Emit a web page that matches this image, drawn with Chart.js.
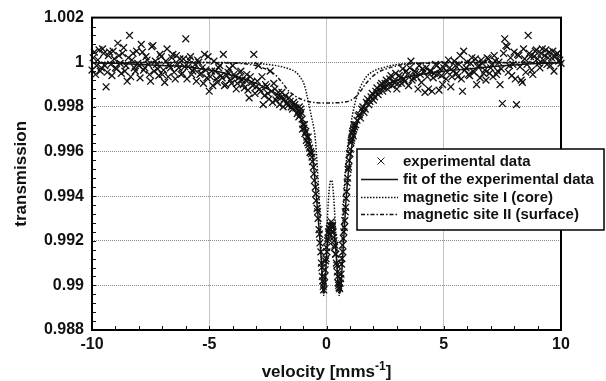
<!DOCTYPE html>
<html>
<head>
<meta charset="utf-8">
<script src="https://cdn.jsdelivr.net/npm/chart.js@4.4.1/dist/chart.umd.min.js"></script>
<style>
  body { margin: 0; background: #fff; }
  canvas { display: block; }
</style>
</head>
<body>
<canvas id="spectrum" width="606" height="381"></canvas>
<script>
// measured spectrum (velocity in mm/s, relative transmission), first pass
const velocity = [
  -10.0, -9.9, -9.8, -9.7, -9.6, -9.5, -9.4, -9.3, -9.2, -9.1,
  -9.0, -8.9, -8.8, -8.7, -8.6, -8.5, -8.4, -8.3, -8.2, -8.1,
  -8.0, -7.9, -7.8, -7.7, -7.6, -7.5, -7.4, -7.3, -7.2, -7.1,
  -7.0, -6.9, -6.8, -6.7, -6.6, -6.5, -6.4, -6.3, -6.2, -6.1,
  -6.0, -5.9, -5.8, -5.7, -5.6, -5.5, -5.4, -5.3, -5.2, -5.1,
  -5.0, -4.9, -4.8, -4.7, -4.6, -4.5, -4.4, -4.3, -4.2, -4.1,
  -4.0, -3.9, -3.8, -3.7, -3.6, -3.5, -3.4, -3.3, -3.2, -3.1,
  -3.0, -2.9, -2.8, -2.7, -2.6, -2.5, -2.4, -2.3, -2.2, -2.1,
  -2.0, -1.9, -1.8, -1.7, -1.6, -1.5, -1.4, -1.3,
  -1.20, -1.16, -1.12, -1.08, -1.04, -1.00, -0.96, -0.92, -0.88, -0.84,
  -0.80, -0.76, -0.72, -0.68, -0.64, -0.60, -0.56, -0.52, -0.48, -0.44,
  -0.40, -0.36, -0.32, -0.28, -0.24, -0.20, -0.16, -0.12, -0.08, -0.04,
  0.00, 0.04, 0.08, 0.12, 0.16, 0.20, 0.24, 0.28, 0.32, 0.36,
  0.40, 0.44, 0.48, 0.52, 0.56, 0.60, 0.64, 0.68, 0.72, 0.76,
  0.80, 0.84, 0.88, 0.92, 0.96, 1.00, 1.04, 1.08, 1.12, 1.16, 1.20,
  1.3, 1.4, 1.5, 1.6, 1.7, 1.8, 1.9, 2.0, 2.1, 2.2,
  2.3, 2.4, 2.5, 2.6, 2.7, 2.8, 2.9, 3.0, 3.1, 3.2,
  3.3, 3.4, 3.5, 3.6, 3.7, 3.8, 3.9, 4.0, 4.1, 4.2,
  4.3, 4.4, 4.5, 4.6, 4.7, 4.8, 4.9, 5.0, 5.1, 5.2,
  5.3, 5.4, 5.5, 5.6, 5.7, 5.8, 5.9, 6.0, 6.1, 6.2,
  6.3, 6.4, 6.5, 6.6, 6.7, 6.8, 6.9, 7.0, 7.1, 7.2,
  7.3, 7.4, 7.5, 7.6, 7.7, 7.8, 7.9, 8.0, 8.1, 8.2,
  8.3, 8.4, 8.5, 8.6, 8.7, 8.8, 8.9, 9.0, 9.1, 9.2,
  9.3, 9.4, 9.5, 9.6, 9.7, 9.8, 9.9, 10.0
];
const transmission = [
  0.99965, 1.00045, 0.99985, 1.00055, 0.99975, 1.00040, 0.99890, 1.00030, 0.99990, 1.00050,
  0.99975, 1.00085, 0.99995, 1.00040, 0.99960, 0.99915, 1.00120, 1.00010, 0.99975, 1.00050,
  0.99985, 1.00080, 0.99965, 1.00025, 0.99990, 0.99915, 1.00075, 1.00005, 0.99970, 1.00035,
  0.99945, 0.99910, 1.00060, 0.99985, 1.00020, 0.99955, 1.00030, 0.99975, 0.99945, 1.00015,
  1.00105, 0.99980, 1.00025, 0.99960, 0.99990, 1.00010, 0.99945, 0.99975, 1.00035, 0.99930,
  0.99870, 0.99960, 1.00005, 0.99925, 0.99975, 0.99940, 1.00035, 0.99900, 0.99955, 0.99920,
  0.99985, 0.99935, 0.99905, 0.99955, 0.99920, 0.99885, 0.99945, 0.99840, 0.99910, 1.00035,
  0.99890, 0.99985, 0.99870, 0.99810, 0.99900, 0.99860, 0.99960, 0.99820, 0.99880, 0.99845,
  0.99810, 0.99865, 0.99835, 0.99815, 0.99840, 0.99800, 0.99820, 0.99795,
  0.99780, 0.99800, 0.99765, 0.99775, 0.99745, 0.99720, 0.99705, 0.99680, 0.99690, 0.99665,
  0.99640, 0.99630, 0.99615, 0.99600, 0.99590, 0.99555, 0.99530, 0.99470, 0.99440, 0.99380,
  0.99345, 0.99300, 0.99250, 0.99190, 0.99150, 0.99080, 0.99020, 0.98980, 0.99040, 0.99110,
  0.99170, 0.99200, 0.99240, 0.99255, 0.99270, 0.99285, 0.99260, 0.99240, 0.99200, 0.99180,
  0.99140, 0.99090, 0.99040, 0.99000, 0.98985, 0.99030, 0.99095, 0.99180, 0.99210, 0.99260,
  0.99330, 0.99390, 0.99460, 0.99520, 0.99560, 0.99590, 0.99640, 0.99660, 0.99690, 0.99700, 0.99710,
  0.99740, 0.99765, 0.99790, 0.99775, 0.99820, 0.99810, 0.99845, 0.99830, 0.99870, 0.99855,
  0.99895, 0.99870, 0.99905, 0.99880, 0.99925, 0.99895, 0.99910, 0.99880, 0.99940, 0.99905,
  0.99925, 0.99960, 0.99895, 1.00005, 0.99930, 0.99955, 0.99880, 0.99945, 0.99970, 0.99865,
  0.99935, 0.99960, 0.99870, 0.99950, 0.99985, 0.99875, 0.99940, 0.99975, 0.99925, 1.00010,
  0.99890, 0.99960, 0.99985, 0.99935, 1.00030, 0.99870, 0.99965, 1.00000, 0.99940, 1.00020,
  0.99955, 0.99900, 0.99985, 1.00010, 0.99950, 0.99920, 1.00015, 0.99975, 0.99935, 1.00005,
  0.99960, 0.99900, 0.99815, 1.00105, 1.00070, 0.99985, 0.99940, 1.00045, 0.99810, 1.00030,
  0.99920, 1.00060, 0.99955, 1.00120, 1.00025, 0.99945, 1.00050, 1.00015, 0.99975, 1.00060,
  1.00030, 0.99990, 1.00045, 1.00020, 0.99960, 1.00035, 1.00005, 0.99995
];

// second pass of the measurement (channels in between)
const velocity2 = [
  -9.95, -9.85, -9.75, -9.65, -9.55, -9.45, -9.35, -9.25, -9.15, -9.05,
  -8.95, -8.85, -8.75, -8.65, -8.55, -8.45, -8.35, -8.25, -8.15, -8.05,
  -7.95, -7.85, -7.75, -7.65, -7.55, -7.45, -7.35, -7.25, -7.15, -7.05,
  -6.95, -6.85, -6.75, -6.65, -6.55, -6.45, -6.35, -6.25, -6.15, -6.05,
  -5.95, -5.85, -5.75, -5.65, -5.55, -5.45, -5.35, -5.25, -5.15, -5.05,
  -4.95, -4.85, -4.75, -4.65, -4.55, -4.45, -4.35, -4.25, -4.15, -4.05,
  -3.95, -3.85, -3.75, -3.65, -3.55, -3.45, -3.35, -3.25, -3.15, -3.05,
  -2.95, -2.85, -2.75, -2.65, -2.55, -2.45, -2.35, -2.25, -2.15, -2.05,
  -1.95, -1.85, -1.75, -1.65, -1.55, -1.45, -1.35, -1.25,
  -1.18, -1.10, -1.02, -0.94, -0.86, -0.78, -0.70, -0.62, -0.54, -0.46,
  -0.38, -0.30, -0.22, -0.18, -0.14, -0.10, -0.06, -0.02,
  0.02, 0.06, 0.10, 0.14, 0.18, 0.22, 0.26, 0.30, 0.34, 0.38,
  0.42, 0.46, 0.50, 0.54, 0.58, 0.62, 0.66, 0.70, 0.74, 0.78,
  0.82, 0.86, 0.90, 0.94, 0.98, 1.02, 1.06, 1.10, 1.14, 1.18,
  1.25, 1.35, 1.45, 1.55, 1.65, 1.75, 1.85, 1.95, 2.05, 2.15,
  2.25, 2.35, 2.45, 2.55, 2.65, 2.75, 2.85, 2.95, 3.05, 3.15,
  3.25, 3.35, 3.45, 3.55, 3.65, 3.75, 3.85, 3.95, 4.05, 4.15,
  4.25, 4.35, 4.45, 4.55, 4.65, 4.75, 4.85, 4.95, 5.05, 5.15,
  5.25, 5.35, 5.45, 5.55, 5.65, 5.75, 5.85, 5.95, 6.05, 6.15,
  6.25, 6.35, 6.45, 6.55, 6.65, 6.75, 6.85, 6.95, 7.05, 7.15,
  7.25, 7.35, 7.45, 7.55, 7.65, 7.75, 7.85, 7.95, 8.05, 8.15,
  8.25, 8.35, 8.45, 8.55, 8.65, 8.75, 8.85, 8.95, 9.05, 9.15,
  9.25, 9.35, 9.45, 9.55, 9.65, 9.75, 9.85, 9.95
];
const transmission2 = [
  1.00020, 0.99945, 1.00010, 0.99960, 1.00060, 0.99985, 0.99955, 1.00045, 0.99940, 1.00015,
  0.99970, 1.00030, 0.99950, 1.00065, 0.99985, 1.00020, 0.99935, 1.00040, 0.99960, 0.99995,
  0.99930, 1.00045, 0.99975, 1.00010, 0.99945, 1.00070, 0.99960, 0.99990, 0.99940, 1.00025,
  0.99965, 1.00005, 0.99935, 0.99975, 1.00035, 0.99925, 0.99990, 1.00015, 0.99950, 0.99980,
  0.99925, 1.00010, 0.99945, 0.99970, 0.99915, 1.00000, 0.99950, 0.99905, 0.99965, 1.00025,
  0.99935, 0.99895, 0.99960, 0.99910, 0.99985, 0.99930, 0.99895, 0.99940, 0.99970, 0.99905,
  0.99945, 0.99880, 0.99930, 0.99960, 0.99900, 0.99920, 0.99875, 0.99935, 0.99895, 0.99860,
  0.99915, 0.99880, 0.99935, 0.99850, 0.99890, 0.99835, 0.99870, 0.99905, 0.99830, 0.99865,
  0.99840, 0.99800, 0.99850, 0.99805, 0.99825, 0.99790, 0.99810, 0.99770,
  0.99755, 0.99790, 0.99700, 0.99720, 0.99650, 0.99665, 0.99595, 0.99575, 0.99500, 0.99410,
  0.99330, 0.99230, 0.99100, 0.99040, 0.98995, 0.99010, 0.99070, 0.99120,
  0.99150, 0.99210, 0.99230, 0.99250, 0.99265, 0.99240, 0.99270, 0.99215, 0.99170, 0.99140,
  0.99100, 0.99060, 0.99010, 0.98990, 0.99010, 0.99050, 0.99120, 0.99150, 0.99240, 0.99290,
  0.99350, 0.99420, 0.99480, 0.99530, 0.99590, 0.99610, 0.99650, 0.99680, 0.99670, 0.99720,
  0.99720, 0.99760, 0.99750, 0.99800, 0.99790, 0.99835, 0.99825, 0.99860, 0.99845, 0.99885,
  0.99870, 0.99905, 0.99885, 0.99920, 0.99900, 0.99940, 0.99915, 0.99950, 0.99905, 0.99930,
  0.99970, 0.99915, 0.99945, 0.99975, 0.99920, 0.99960, 0.99935, 0.99985, 0.99910, 0.99955,
  0.99975, 0.99880, 0.99960, 0.99930, 0.99990, 0.99945, 0.99970, 0.99900, 0.99990, 0.99955,
  0.99975, 0.99935, 1.00005, 0.99950, 0.99990, 0.99925, 1.00050, 0.99975, 0.99945, 0.99995,
  0.99960, 1.00015, 0.99980, 0.99930, 0.99995, 0.99965, 1.00020, 0.99950, 0.99990, 1.00030,
  0.99945, 1.00000, 0.99970, 1.00040, 1.00075, 0.99955, 1.00020, 0.99990, 0.99925, 1.00035,
  0.99980, 0.99910, 1.00015, 0.99990, 1.00040, 0.99965, 1.00025, 1.00055, 0.99995, 1.00040,
  1.00010, 1.00055, 1.00020, 0.99985, 1.00050, 1.00025, 1.00040, 1.00010
];

// least-squares fit of the whole spectrum
const fitVelocity = [
  -10, -9, -8, -7, -6, -5, -4.5, -4, -3.5, -3, -2.5, -2, -1.7, -1.4, -1.2, -1.0,
  -0.85, -0.7, -0.6, -0.5, -0.4, -0.3, -0.22, -0.16, -0.12, -0.08, -0.03, 0.03,
  0.1, 0.17, 0.24, 0.31, 0.38, 0.45, 0.51, 0.56, 0.61, 0.67, 0.74, 0.82, 0.9,
  1.0, 1.1, 1.25, 1.45, 1.7, 2.0, 2.4, 2.8, 3.3, 4, 5, 6, 7, 8, 9, 10
];
const fitTransmission = [
  0.99998, 0.99995, 0.9999, 0.99985, 0.9998, 0.99965, 0.99955, 0.9994, 0.99925, 0.99905, 0.9988, 0.9985, 0.9982, 0.9979, 0.99765, 0.9973,
  0.9969, 0.9963, 0.9958, 0.9948, 0.9936, 0.9923, 0.9911, 0.9900, 0.98965, 0.9899, 0.9907, 0.9917,
  0.9924, 0.99275, 0.9928, 0.9925, 0.9918, 0.9908, 0.9899, 0.98965, 0.9899, 0.9909, 0.9922, 0.9936, 0.9947,
  0.9957, 0.9964, 0.9971, 0.99765, 0.9982, 0.99855, 0.9989, 0.9991, 0.9993, 0.99945, 0.9996, 0.9997, 0.9998, 0.99988, 0.99994, 0.99997
];

// subspectrum: magnetic site I (core)
const coreVelocity = [
  -10, -6, -4, -3, -2.5, -2, -1.6, -1.3, -1.1, -0.95, -0.85, -0.75, -0.65, -0.55,
  -0.48, -0.41, -0.34, -0.27, -0.21, -0.16, -0.12, -0.08, -0.03, 0.03, 0.1, 0.16,
  0.22, 0.28, 0.34, 0.4, 0.45, 0.5, 0.54, 0.58, 0.63, 0.69, 0.75, 0.82, 0.9, 1.0,
  1.1, 1.25, 1.45, 1.7, 2.0, 2.5, 3, 4, 6, 10
];
const coreTransmission = [
  1.0, 1.0, 0.99998, 0.99995, 0.9999, 0.99982, 0.9997, 0.99955, 0.9993, 0.9990, 0.9986, 0.9981, 0.9976, 0.9971,
  0.9966, 0.9956, 0.9944, 0.9929, 0.9912, 0.9899, 0.98955, 0.9899, 0.9911, 0.9928, 0.9941, 0.99465,
  0.9947, 0.9943, 0.9934, 0.9921, 0.9909, 0.9899, 0.98955, 0.9899, 0.9911, 0.9926, 0.9940, 0.9952, 0.9961, 0.9969,
  0.9976, 0.9983, 0.9989, 0.99935, 0.9996, 0.99978, 0.9999, 0.99997, 1.0, 1.0
];

// subspectrum: magnetic site II (surface)
const surfaceVelocity = [
  -10, -5, -4, -3.5, -3, -2.6, -2.2, -1.9, -1.6, -1.35, -1.1, -0.8, -0.4, 0,
  0.4, 0.8, 1.05, 1.25, 1.45, 1.65, 1.9, 2.2, 2.6, 3.0, 3.5, 4.5, 6, 10
];
const surfaceTransmission = [
  0.99998, 0.99998, 0.99996, 0.99993, 0.99985, 0.9997, 0.99945, 0.9991, 0.9987, 0.9985, 0.99835, 0.99825, 0.99818, 0.99817,
  0.99818, 0.99822, 0.9983, 0.99845, 0.9987, 0.9990, 0.9993, 0.99955, 0.99972, 0.99984, 0.99992, 0.99996, 0.99998, 0.99998
];

const legendLabels = [
  "experimental data",
  "fit of the experimental data",
  "magnetic site I (core)",
  "magnetic site II (surface)"
];

const FONT = "'Liberation Sans', Arial, Helvetica, sans-serif";
const toPoints = (xs, ys) => xs.map((x, i) => ({ x: x, y: ys[i] }));

// frame, inner minor ticks, legend box and x title
const decorations = {
  id: "decorations",
  afterDraw(chart) {
    const { ctx, chartArea: a, scales } = chart;
    ctx.save();

    // minor ticks on left and bottom axes
    ctx.strokeStyle = "#111";
    ctx.lineWidth = 1;
    ctx.beginPath();
    for (let k = -9; k <= 9; k++) {
      const px = Math.round(scales.x.getPixelForValue(k)) + 0.5;
      ctx.moveTo(px, a.bottom);
      ctx.lineTo(px, a.bottom - 4);
    }
    for (let k = 1; k < 35; k++) {
      const py = Math.round(scales.y.getPixelForValue(0.988 + k * 0.0004)) + 0.5;
      ctx.moveTo(a.left, py);
      ctx.lineTo(a.left + 4, py);
    }
    ctx.stroke();

    // plot frame
    ctx.lineWidth = 2;
    ctx.strokeStyle = "#000";
    ctx.strokeRect(a.left, a.top, a.right - a.left, a.bottom - a.top);

    // legend
    const bx = 357, by = 149, bw = 247, bh = 81;
    ctx.fillStyle = "#fff";
    ctx.fillRect(bx, by, bw, bh);
    ctx.lineWidth = 1.5;
    ctx.strokeRect(bx, by, bw, bh);

    const rows = [161, 179, 197, 214];
    const sets = chart.data.datasets;
    // marker sample
    ctx.lineWidth = 1;
    ctx.strokeStyle = "#222";
    ctx.beginPath();
    ctx.moveTo(377.5, rows[0] - 3.5); ctx.lineTo(384.5, rows[0] + 3.5);
    ctx.moveTo(384.5, rows[0] - 3.5); ctx.lineTo(377.5, rows[0] + 3.5);
    ctx.stroke();
    // line samples
    for (let i = 1; i < 4; i++) {
      ctx.strokeStyle = sets[i].borderColor;
      ctx.lineWidth = sets[i].borderWidth;
      ctx.setLineDash(sets[i].borderDash || []);
      ctx.beginPath();
      ctx.moveTo(361, rows[i] + 0.5);
      ctx.lineTo(398, rows[i] + 0.5);
      ctx.stroke();
    }
    ctx.setLineDash([]);

    ctx.fillStyle = "#111";
    ctx.font = "bold 15px " + FONT;
    ctx.textBaseline = "middle";
    ctx.textAlign = "left";
    legendLabels.forEach((t, i) => ctx.fillText(t, 403, rows[i] + 1));

    // x axis title with superscript
    const main = "velocity [mms";
    const sup = "-1";
    ctx.font = "bold 17px " + FONT;
    const w1 = ctx.measureText(main).width;
    const w3 = ctx.measureText("]").width;
    ctx.font = "bold 12px " + FONT;
    const w2 = ctx.measureText(sup).width;
    const cx = (a.left + a.right) / 2;
    let x0 = cx - (w1 + w2 + w3) / 2;
    const ty = 371;
    ctx.textBaseline = "alphabetic";
    ctx.font = "bold 17px " + FONT;
    ctx.fillText(main, x0, ty + 6);
    ctx.font = "bold 12px " + FONT;
    ctx.fillText(sup, x0 + w1, ty - 1);
    ctx.font = "bold 17px " + FONT;
    ctx.fillText("]", x0 + w1 + w2, ty + 6);

    ctx.restore();
  }
};

new Chart(document.getElementById("spectrum"), {
  type: "scatter",
  data: {
    datasets: [
      {
        label: legendLabels[0],
        data: toPoints(velocity, transmission).concat(toPoints(velocity2, transmission2)),
        pointStyle: "crossRot",
        pointRadius: 4.8,
        borderColor: "#111",
        borderWidth: 1.3,
        showLine: false,
        clip: false,
        order: 1
      },
      {
        type: "line",
        label: legendLabels[1],
        data: toPoints(fitVelocity, fitTransmission),
        borderColor: "#111",
        borderWidth: 1.5,
        pointRadius: 0,
        cubicInterpolationMode: "monotone",
        order: 2
      },
      {
        type: "line",
        label: legendLabels[2],
        data: toPoints(coreVelocity, coreTransmission),
        borderColor: "#111",
        borderWidth: 1.5,
        borderDash: [1.5, 1.5],
        pointRadius: 0,
        cubicInterpolationMode: "monotone",
        order: 0
      },
      {
        type: "line",
        label: legendLabels[3],
        data: toPoints(surfaceVelocity, surfaceTransmission),
        borderColor: "#111",
        borderWidth: 1.5,
        borderDash: [4, 2, 1.5, 2],
        pointRadius: 0,
        cubicInterpolationMode: "monotone",
        order: 0
      }
    ]
  },
  options: {
    responsive: false,
    animation: false,
    devicePixelRatio: 1,
    layout: { padding: { top: 16, right: 45, left: 0, bottom: 0 } },
    plugins: {
      legend: { display: false },
      tooltip: { enabled: false }
    },
    scales: {
      x: {
        type: "linear",
        min: -10,
        max: 10,
        afterFit: (s) => { s.height = 51; },
        ticks: {
          stepSize: 5,
          padding: 5,
          color: "#111",
          font: { family: FONT, size: 16, weight: "bold" }
        },
        grid: { color: "#888", lineWidth: 1, drawTicks: false },
        border: { display: false, dash: [1, 1] }
      },
      y: {
        min: 0.988,
        max: 1.002,
        afterFit: (s) => { s.width = 92; },
        ticks: {
          stepSize: 0.002,
          padding: 8,
          color: "#111",
          font: { family: FONT, size: 16, weight: "bold" },
          callback: (v) => String(+v.toFixed(3))
        },
        grid: { color: "#888", lineWidth: 1, drawTicks: false },
        border: { display: false, dash: [1, 1] },
        title: {
          display: true,
          text: "transmission",
          color: "#111",
          padding: { top: 11, bottom: 0 },
          font: { family: FONT, size: 17, weight: "bold" }
        }
      }
    }
  },
  plugins: [decorations]
});
</script>
</body>
</html>
